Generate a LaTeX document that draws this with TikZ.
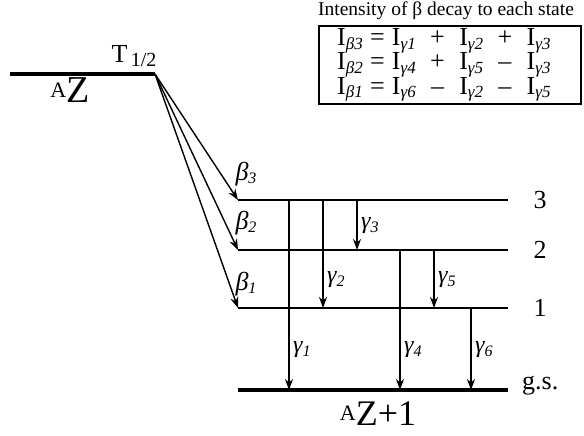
\documentclass[tikz,border=0pt]{standalone}
\usepackage{fontspec}
\setmainfont{Liberation Serif}
\usetikzlibrary{arrows.meta}
\newcommand\lsub[1]{\raisebox{-0.3ex}{\fontsize{16}{16}\selectfont\itshape #1}}
\newcommand\esub[1]{\raisebox{-0.3ex}{\fontsize{17}{17}\selectfont\itshape #1}}
\begin{document}
\begin{tikzpicture}[x=1pt,y=-1pt,
  lvl/.style={line width=1.6pt},
  base/.style={line width=3.2pt},
  arr/.style={line width=1.4pt,-{Stealth[length=11pt,width=8pt]}},
  lab/.style={inner sep=0pt,font=\fontsize{26}{26}\selectfont},
  glab/.style={inner sep=0pt,anchor=west,font=\fontsize{24}{24}\selectfont\itshape},
  blab/.style={inner sep=0pt,font=\fontsize{26}{26}\selectfont\itshape}]
\useasboundingbox (0,0) rectangle (584,436);
% parent level
\coordinate (p0) at (10,74);
\coordinate (p1) at (155,74);
\draw[base] (p0) -- (p1);
\node[lab] (thalf) at (134,56) {T\raisebox{-0.35ex}{\fontsize{20}{20}\selectfont\,1/2}};
\node[inner sep=0pt] (az) at (70,90) {\raisebox{1.1ex}{\fontsize{22}{22}\selectfont A}\fontsize{38}{38}\selectfont Z};
% levels
\coordinate (a3) at (238,200); \coordinate (b3) at (508,200);
\coordinate (a2) at (238,250); \coordinate (b2) at (508,250);
\coordinate (a1) at (238,308); \coordinate (b1) at (508,308);
\coordinate (a0) at (238,390); \coordinate (b0) at (508,390);
\draw[lvl] (a3) -- (b3);
\draw[lvl] (a2) -- (b2);
\draw[lvl] (a1) -- (b1);
\draw[base] (a0) -- (b0);
\node[lab] (n3) at (540,200) {3};
\node[lab] (n2) at (540,250) {2};
\node[lab] (n1) at (540,308) {1};
\node[lab,anchor=west] (gs) at (522,386) {g.s.};
\node[inner sep=0pt] (azp) at (378,414) {\raisebox{1.1ex}{\fontsize{22}{22}\selectfont A}\fontsize{36}{36}\selectfont Z+1};
% beta arrows
\draw[arr] (p1) -- (a3);
\draw[arr] (p1) -- (a2);
\draw[arr] (p1) -- (a1);
\node[blab] (be3) at (246,174) {β\lsub{3}};
\node[blab] (be2) at (246,223) {β\lsub{2}};
\node[blab] (be1) at (246,284) {β\lsub{1}};
% gamma arrows
\coordinate (g1s) at (289,200); \coordinate (g1e) at (289,390);
\coordinate (g2s) at (323,200); \coordinate (g2e) at (323,308);
\coordinate (g3s) at (357,200); \coordinate (g3e) at (357,250);
\coordinate (g4s) at (400,250); \coordinate (g4e) at (400,390);
\coordinate (g5s) at (434,250); \coordinate (g5e) at (434,308);
\coordinate (g6s) at (471,308); \coordinate (g6e) at (471,390);
\draw[arr] (g1s) -- (g1e);
\draw[arr] (g2s) -- (g2e);
\draw[arr] (g3s) -- (g3e);
\draw[arr] (g4s) -- (g4e);
\draw[arr] (g5s) -- (g5e);
\draw[arr] (g6s) -- (g6e);
\node[glab] (ga1) at (293,350) {γ\lsub{1}};
\node[glab] (ga2) at (327,280) {γ\lsub{2}};
\node[glab] (ga3) at (361,226) {γ\lsub{3}};
\node[glab] (ga4) at (404,350) {γ\lsub{4}};
\node[glab] (ga5) at (438,280) {γ\lsub{5}};
\node[glab] (ga6) at (475,350) {γ\lsub{6}};
% box
\node[inner sep=0pt,font=\fontsize{19.5}{19.5}\selectfont] (title) at (446,11) {Intensity of β decay to each state};
\draw[line width=1.8pt] (319,26) rectangle (581,104);
\node[inner sep=0pt,font=\fontsize{26}{21}\selectfont,anchor=west] (eqs) at (337,65) {%
\begin{tabular}{@{}l@{\;}c@{\;}l@{\;\;}c@{\;\;}l@{\;\;}c@{\;\;}l@{}}
I\esub{β3} & = & I\esub{γ1} & + & I\esub{γ2} & + & I\esub{γ3}\\
I\esub{β2} & = & I\esub{γ4} & + & I\esub{γ5} & – & I\esub{γ3}\\
I\esub{β1} & = & I\esub{γ6} & – & I\esub{γ2} & – & I\esub{γ5}
\end{tabular}};
\end{tikzpicture}
\end{document}
